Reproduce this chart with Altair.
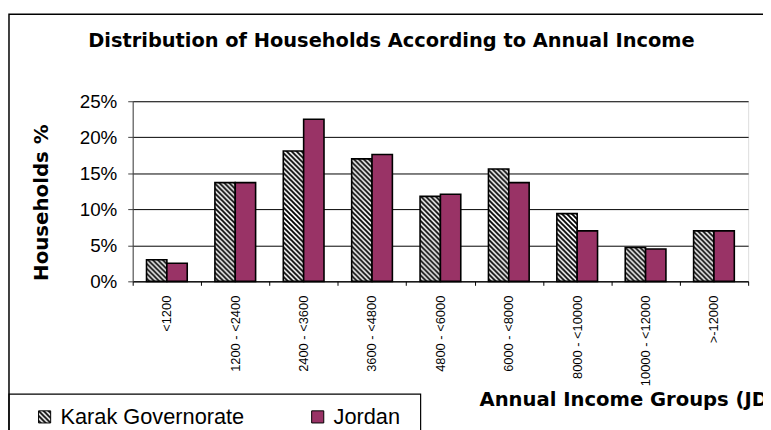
import altair as alt
import pandas as pd

chart_title = "Distribution of Households According to Annual Income"
categories = ["<1200", "1200 - <2400", "2400 - <3600", "3600 - <4800", "4800 - <6000",
              "6000 - <8000", "8000 - <10000", "10000 - <12000", ">-12000"]
series_names = ["Karak Governorate", "Jordan"]
karak = [3.0, 13.7, 18.1, 17.0, 11.8, 15.6, 9.4, 4.7, 7.0]
jordan = [2.5, 13.7, 22.5, 17.6, 12.1, 13.7, 7.0, 4.5, 7.0]
series_fills = ["url(#hatch)", "#993366"]

rows = []
for c, k, j in zip(categories, karak, jordan):
    rows.append({"group": c, "series": series_names[0], "value": k / 100})
    rows.append({"group": c, "series": series_names[1], "value": j / 100})
df = pd.DataFrame(rows)

FONT = "Liberation Sans"
BOLD = "DejaVu Sans"

bars = alt.Chart(df).mark_bar(stroke="black", strokeWidth=1.6).encode(
    x=alt.X("group:N", sort=categories,
            scale=alt.Scale(paddingInner=0, paddingOuter=0),
            axis=alt.Axis(title="Annual Income Groups (JD)", labelAngle=270,
                          labelFontSize=13, labelFont=FONT, labelColor="black",
                          labelPadding=10, tickSize=4, tickColor="black",
                          tickBand="extent", domainColor="black",
                          titleFontSize=19.8, titleFont=BOLD, titleFontWeight="bold",
                          titleColor="black", titleAlign="left", titleBaseline="alphabetic",
                          titleX=350, titleY=125, grid=False)),
    xOffset=alt.XOffset("series:N", sort=series_names,
                        scale=alt.Scale(domain=series_names, paddingInner=0, paddingOuter=0.68)),
    y=alt.Y("value:Q", scale=alt.Scale(domain=[0, 0.25], nice=False),
            axis=alt.Axis(title="Households %", format=".0%", values=[0, 0.05, 0.1, 0.15, 0.2, 0.25],
                          labelFontSize=19, labelFont=FONT, labelColor="black",
                          labelPadding=11, tickSize=5, tickColor="#404040",
                          domainColor="#404040", gridColor="black", gridWidth=1,
                          titleFontSize=20, titleFont=BOLD, titleFontWeight="bold",
                          titleColor="black", titleAngle=270, titleAlign="center",
                          titleBaseline="alphabetic", titleX=-86, titleY=102)),
    fill=alt.Fill("series:N", sort=series_names,
                  scale=alt.Scale(domain=series_names, range=series_fills),
                  legend=alt.Legend(title=None, orient="none", legendX=-100, legendY=308,
                                    direction="horizontal", symbolType="square",
                                    symbolSize=150, symbolStrokeColor="black",
                                    symbolStrokeWidth=1, labelFontSize=22, labelFont=FONT,
                                    labelColor="black", labelOffset=5, labelLimit=400,
                                    columnPadding=63, padding=0)),
)

frame_df = pd.DataFrame({"k": [1]})
outer = alt.Chart(frame_df).mark_rect(filled=False, stroke="black", strokeWidth=1.5).encode(
    x=alt.value(-125), x2=alt.value(700), y=alt.value(-88), y2=alt.value(400))
legend_box = alt.Chart(frame_df).mark_rect(filled=False, stroke="black", strokeWidth=1.2).encode(
    x=alt.value(-125), x2=alt.value(291), y=alt.value(296), y2=alt.value(400))

title_df = pd.DataFrame({"t": [chart_title]})
title = alt.Chart(title_df).mark_text(font=BOLD, fontSize=19.6, fontWeight="bold", color="black",
                                      align="center", baseline="alphabetic").encode(
    text="t:N", x=alt.value(261.5), y=alt.value(-55))

chart = alt.layer(outer, legend_box, title, bars).properties(
    width=622, height=182,
    autosize=alt.AutoSizeParams(type="none"),
    padding={"left": 126, "top": 92, "right": 15, "bottom": 148},
).configure_view(stroke="#808080", strokeWidth=1).configure(background="white")

chart.save("out.html", embed_options={"renderer": "svg", "actions": False})

pattern = ('<svg width="0" height="0" style="position:absolute"><defs>'
           '<pattern id="hatch" patternUnits="userSpaceOnUse" width="5" height="5">'
           '<rect width="5" height="5" fill="white"/>'
           '<path d="M-1,-1 L6,6 M-1,4 L1,6 M4,-1 L6,1" stroke="black" stroke-width="1.9"/>'
           '</pattern></defs></svg>')
with open("out.html", encoding="utf-8") as f:
    html = f.read()
html = html.replace("<body>", "<body>" + pattern, 1)
with open("out.html", "w", encoding="utf-8") as f:
    f.write(html)
